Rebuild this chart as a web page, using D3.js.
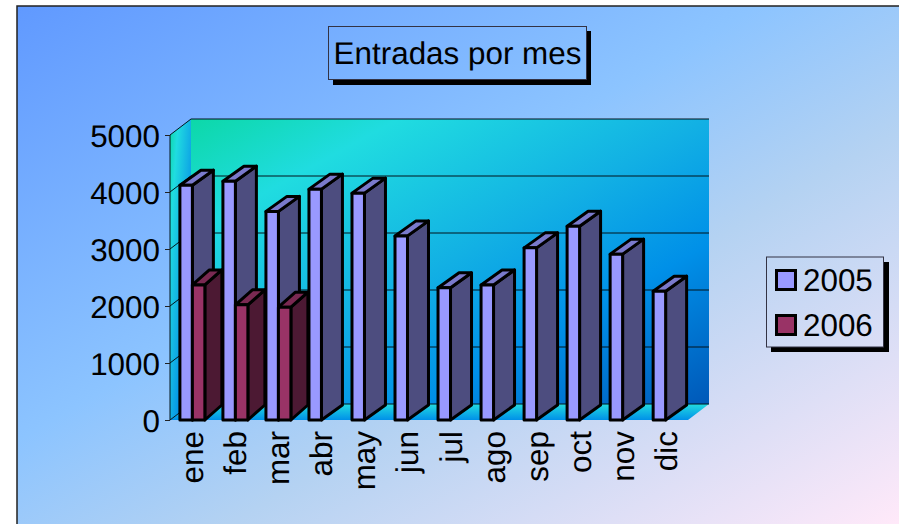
<!DOCTYPE html>
<html lang="en">
<head>
<meta charset="utf-8">
<title>Entradas por mes</title>
<script src="https://cdn.jsdelivr.net/npm/d3@7"></script>
<style>
  html, body { margin: 0; padding: 0; background: #fff; overflow: hidden; }
  text { font-family: "Liberation Sans", Arial, sans-serif; fill: #000; text-rendering: geometricPrecision; }
</style>
</head>
<body>
<script>
// values
var months = ["ene", "feb", "mar", "abr", "may", "jun", "jul", "ago", "sep", "oct", "nov", "dic"];
var years = ["2005", "2006"];
var values2005 = [4120, 4190, 3660, 4050, 3980, 3230, 2320, 2370, 3020, 3400, 2910, 2260];
var values2006 = [2370, 2020, 1980];
var yTicks = [0, 1000, 2000, 3000, 4000, 5000];
var chartTitle = "Entradas por mes";

var width = 899, height = 524;
var left = 170, right = 688, bottom = 420, top5000 = 135;
var depthX = 21, depthY = 16;   // fake 3d offset of the back wall
var fontSize = 31.4;

var svg = d3.select("body").append("svg")
  .attr("width", width)
  .attr("height", height)
  .style("display", "block");

var defs = svg.append("defs");

function gradient(id, coords, stops, userSpace) {
  var g = defs.append("linearGradient").attr("id", id)
    .attr("x1", coords[0]).attr("y1", coords[1])
    .attr("x2", coords[2]).attr("y2", coords[3]);
  if (userSpace) g.attr("gradientUnits", "userSpaceOnUse");
  stops.forEach(function(s) {
    g.append("stop").attr("offset", s[0]).attr("stop-color", s[1]);
  });
}

// same gradient is reused for the title and legend boxes so they look see-through
gradient("bg", [17, 6, 469, 776], [[0, "#6099ff"], [0.42, "#8cc4ff"], [0.62, "#b4d2f2"], [1, "#ffe9f9"]], true);
gradient("wall", [0, 0, 1, 1], [[0, "#0cd8a8"], [0.2, "#20dce0"], [0.5, "#12b0e4"], [0.72, "#0090e8"], [1, "#0058b8"]]);
gradient("floor", [0, 0, 0, 1], [[0, "#22dce0"], [1, "#0090e8"]]);

var x = d3.scaleBand().domain(months).range([left, right]).paddingInner(0.42).paddingOuter(0.23);
var xSeries = d3.scaleBand().domain(years).range([0, x.bandwidth()]);
var y = d3.scaleLinear().domain([0, 5000]).range([bottom, top5000]);

// chart area background, right and bottom border fall off the page
svg.append("rect")
  .attr("x", 17).attr("y", 6)
  .attr("width", width).attr("height", height)
  .attr("fill", "url(#bg)")
  .attr("stroke", "#222")
  .attr("stroke-width", 1.5);

// left wall, floor and back wall
svg.append("path")
  .attr("d", d3.line()([[left, y(5000)], [left + depthX, y(5000) - depthY], [left + depthX, y(0) - depthY], [left, y(0)]]) + "Z")
  .attr("fill", "url(#wall)");
svg.append("path")
  .attr("d", d3.line()([[left, y(0)], [left + depthX, y(0) - depthY], [right + depthX, y(0) - depthY], [right, y(0)]]) + "Z")
  .attr("fill", "url(#floor)");
svg.append("rect")
  .attr("x", left + depthX).attr("y", y(5000) - depthY)
  .attr("width", right - left).attr("height", y(0) - y(5000))
  .attr("fill", "url(#wall)");

// gridlines run along the left wall and across the back wall
svg.selectAll("path.grid")
  .data(yTicks)
  .enter()
  .append("path")
  .attr("class", "grid")
  .attr("d", function(d) {
    return d3.line()([[left, y(d)], [left + depthX, y(d) - depthY], [right + depthX, y(d) - depthY]]);
  })
  .attr("fill", "none")
  .attr("stroke", "#03141c")
  .attr("stroke-width", 1);

svg.append("line")
  .attr("x1", left).attr("x2", left)
  .attr("y1", y(5000)).attr("y2", y(0))
  .attr("stroke", "#03141c");

var yAxis = d3.axisLeft(y).tickValues(yTicks).tickSize(5).tickFormat(d3.format("d"));
var yG = svg.append("g").attr("transform", "translate(" + left + ",0)").call(yAxis);
yG.select(".domain").remove();
yG.selectAll("line").attr("stroke", "#222");
yG.selectAll("text").attr("font-size", fontSize).attr("x", -10).attr("dy", "0.36em");

// bars: front face, side face, top face
function drawBars(data, year, front, side, topFace, dx, dy) {
  var bw = xSeries.bandwidth();
  var g = svg.append("g").selectAll("g")
    .data(data)
    .enter()
    .append("g")
    .attr("stroke", "#000")
    .attr("stroke-width", 3)
    .attr("stroke-linejoin", "round");

  function bx(d, i) { return x(months[i]) + xSeries(year); }

  g.append("path").attr("fill", side).attr("d", function(d, i) {
    var x0 = bx(d, i) + bw;
    return d3.line()([[x0, y(d)], [x0 + dx, y(d) - dy], [x0 + dx, y(0) - dy], [x0, y(0)]]) + "Z";
  });
  g.append("path").attr("fill", topFace).attr("d", function(d, i) {
    var x0 = bx(d, i);
    return d3.line()([[x0, y(d)], [x0 + dx, y(d) - dy], [x0 + bw + dx, y(d) - dy], [x0 + bw, y(d)]]) + "Z";
  });
  g.append("rect")
    .attr("x", bx)
    .attr("y", function(d) { return y(d); })
    .attr("width", bw)
    .attr("height", function(d) { return y(0) - y(d); })
    .attr("fill", front);
}

drawBars(values2005, "2005", "#9999ff", "#4d4d7f", "#7a7acc", 21, 15);
drawBars(values2006, "2006", "#993366", "#4c1933", "#7a2952", 17, 15);

// month labels
svg.selectAll("text.month")
  .data(months)
  .enter()
  .append("text")
  .attr("class", "month")
  .attr("transform", function(d) {
    return "translate(" + (x(d) + x.bandwidth() / 2 + 11) + ",431) rotate(-90)";
  })
  .attr("text-anchor", "end")
  .attr("font-size", fontSize)
  .text(function(d) { return d; });

// title box
svg.append("rect").attr("x", 333).attr("y", 31).attr("width", 258).attr("height", 54).attr("fill", "#000");
svg.append("rect").attr("x", 328.5).attr("y", 26.5).attr("width", 258).attr("height", 53)
  .attr("fill", "url(#bg)").attr("stroke", "#334").attr("stroke-width", 1);
svg.append("text").attr("x", 457.5).attr("y", 64).attr("text-anchor", "middle")
  .attr("font-size", fontSize).text(chartTitle);

// legend
svg.append("rect").attr("x", 771).attr("y", 262).attr("width", 118).attr("height", 90).attr("fill", "#000");
svg.append("rect").attr("x", 766.5).attr("y", 257).attr("width", 117).attr("height", 90)
  .attr("fill", "url(#bg)").attr("stroke", "#334").attr("stroke-width", 1);

var legendY = d3.scalePoint().domain(years).range([280, 325]);
var legendColor = d3.scaleOrdinal().domain(years).range(["#9999ff", "#993366"]);
var legendItems = svg.selectAll("g.legend")
  .data(years)
  .enter()
  .append("g")
  .attr("class", "legend");
legendItems.append("rect")
  .attr("x", 776.5)
  .attr("y", function(d) { return legendY(d) - 9.5; })
  .attr("width", 19).attr("height", 19)
  .attr("fill", function(d) { return legendColor(d); })
  .attr("stroke", "#000").attr("stroke-width", 3);
legendItems.append("text")
  .attr("x", 803)
  .attr("y", function(d) { return legendY(d) + 11; })
  .attr("font-size", fontSize)
  .text(function(d) { return d; });
</script>
</body>
</html>
